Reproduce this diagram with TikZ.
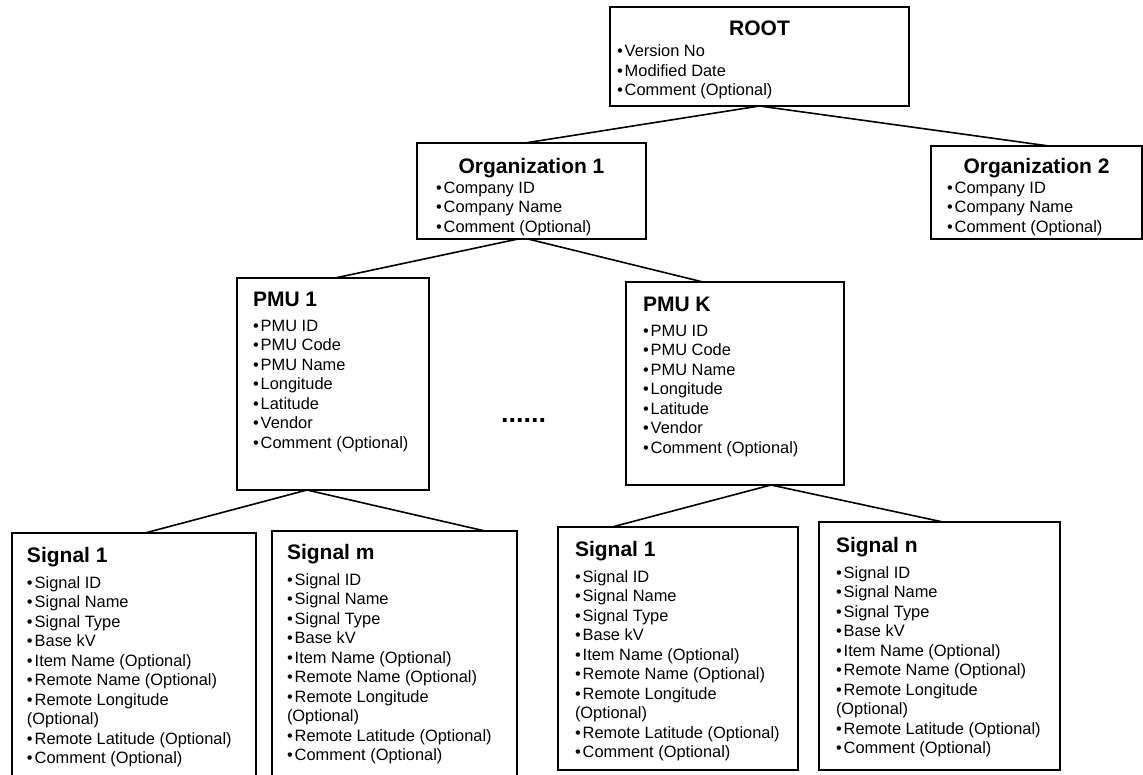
\documentclass[tikz,border=0pt]{standalone}
\usepackage{fontspec}
\setmainfont{Liberation Sans}
\usetikzlibrary{positioning}

% top-aligned field list: width, height, top gap, contents
\newcommand{\fieldlist}[4]{%
  \begin{minipage}[t][#2][t]{#1}\raggedright
  \vspace*{#3}\fontsize{16.4}{19.5}\selectfont #4\end{minipage}}
\newcommand{\centertitle}[2][0pt]{{\centering\fontsize{21}{24}\selectfont\bfseries #2\par}\vspace{#1}}
\newcommand{\lefttitle}[2][0pt]{{\fontsize{21}{24}\selectfont\bfseries #2\par}\vspace{#1}}
\newcommand{\fielditem}[1]{\textbullet\kern2pt #1\par}

\begin{document}
\begin{tikzpicture}[x=1pt, y=1pt,
    % --- box styles ---
    entity/.style={rectangle, draw=black, line width=2.6pt,
        outer sep=0pt, inner ysep=0pt},
    dots/.style={font=\fontsize{27}{27}\selectfont\bfseries, inner sep=3pt},
    % --- line styles ---
    link/.style={line width=1.6pt}
]
\useasboundingbox (0,0) rectangle (1143,-774);

%%% ================= LEVEL 0: ROOT =================
\node (root) [entity, inner xsep=7pt, anchor=north] at (759.5,-7)
    {\fieldlist{285pt}{99pt}{14pt}{\centertitle[1.5pt]{ROOT}
     \fielditem{Version No}\fielditem{Modified Date}\fielditem{Comment (Optional)}}};

%%% ================= LEVEL 1: ORGANIZATIONS =================
\node (org1) [entity, inner xsep=19pt, below=37pt of root, xshift=-228pt]
    {\fieldlist{191pt}{96pt}{15pt}{\centertitle[0.5pt]{Organization 1}
     \fielditem{Company ID}\fielditem{Company Name}\fielditem{Comment (Optional)}}};
\node (org2) [entity, inner xsep=16pt, below=40pt of root, xshift=277pt]
    {\fieldlist{179pt}{93pt}{12pt}{\centertitle[0.5pt]{Organization 2}
     \fielditem{Company ID}\fielditem{Company Name}\fielditem{Comment (Optional)}}};

%%% ================= LEVEL 2: PMUS =================
\node (pmu1) [entity, inner xsep=16pt, below=39pt of org1, xshift=-198.5pt]
    {\fieldlist{160pt}{212pt}{14pt}{\lefttitle[5.5pt]{PMU 1}
     \fielditem{PMU ID}\fielditem{PMU Code}\fielditem{PMU Name}\fielditem{Longitude}
     \fielditem{Latitude}\fielditem{Vendor}\fielditem{Comment (Optional)}}};
\node (pmuk) [entity, inner xsep=17pt, below=43pt of org1, xshift=203.5pt]
    {\fieldlist{184pt}{203pt}{15pt}{\lefttitle[5.5pt]{PMU K}
     \fielditem{PMU ID}\fielditem{PMU Code}\fielditem{PMU Name}\fielditem{Longitude}
     \fielditem{Latitude}\fielditem{Vendor}\fielditem{Comment (Optional)}}};
\node (gap) [dots, right=69pt of pmu1, yshift=-36.5pt] {......};

%%% ================= LEVEL 3: SIGNALS =================
\node (sig1left) [entity, inner xsep=15pt, below=43pt of pmu1, xshift=-199pt]
    {\fieldlist{214pt}{250pt}{14pt}{\lefttitle[6.5pt]{Signal 1}
     \fielditem{Signal ID}\fielditem{Signal Name}\fielditem{Signal Type}\fielditem{Base kV}
     \fielditem{Item Name (Optional)}\fielditem{Remote Name (Optional)}
     \fielditem{Remote Longitude\\(Optional)}\fielditem{Remote Latitude (Optional)}
     \fielditem{Comment (Optional)}}};
\node (sigm) [entity, inner xsep=15pt, below=41pt of pmu1, xshift=61.5pt]
    {\fieldlist{215pt}{252pt}{13pt}{\lefttitle[6.5pt]{Signal m}
     \fielditem{Signal ID}\fielditem{Signal Name}\fielditem{Signal Type}\fielditem{Base kV}
     \fielditem{Item Name (Optional)}\fielditem{Remote Name (Optional)}
     \fielditem{Remote Longitude\\(Optional)}\fielditem{Remote Latitude (Optional)}
     \fielditem{Comment (Optional)}}};
\node (sig1right) [entity, inner xsep=17pt, below=42pt of pmuk, xshift=-57pt]
    {\fieldlist{206pt}{243pt}{14pt}{\lefttitle[6.5pt]{Signal 1}
     \fielditem{Signal ID}\fielditem{Signal Name}\fielditem{Signal Type}\fielditem{Base kV}
     \fielditem{Item Name (Optional)}\fielditem{Remote Name (Optional)}
     \fielditem{Remote Longitude\\(Optional)}\fielditem{Remote Latitude (Optional)}
     \fielditem{Comment (Optional)}}};
\node (sign) [entity, inner xsep=17pt, below=37pt of pmuk, xshift=204.5pt]
    {\fieldlist{207pt}{248pt}{15pt}{\lefttitle[6.5pt]{Signal n}
     \fielditem{Signal ID}\fielditem{Signal Name}\fielditem{Signal Type}\fielditem{Base kV}
     \fielditem{Item Name (Optional)}\fielditem{Remote Name (Optional)}
     \fielditem{Remote Longitude\\(Optional)}\fielditem{Remote Latitude (Optional)}
     \fielditem{Comment (Optional)}}};

%%% ================= LINKS =================
\draw [link] (root.south) -- ([xshift=-6.5pt]org1.north);
\draw [link] (root.south) -- ([xshift=12.5pt]org2.north);
\draw [link] ([xshift=-13.5pt]org1.south) -- ([xshift=2pt]pmu1.north);
\draw [link] ([xshift=-3.5pt]org1.south) -- ([xshift=-32pt]pmuk.north);
\draw [link] ([xshift=-26pt]pmu1.south) -- ([xshift=11pt]sig1left.north);
\draw [link] ([xshift=-26pt]pmu1.south) -- ([xshift=90.5pt]sigm.north);
\draw [link] ([xshift=36pt]pmuk.south) -- ([xshift=-66pt]sig1right.north);
\draw [link] ([xshift=36pt]pmuk.south) -- ([xshift=3.5pt]sign.north);

\end{tikzpicture}
\end{document}
